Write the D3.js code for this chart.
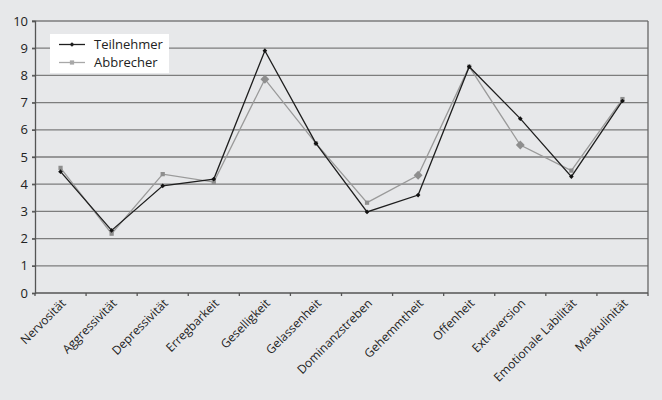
<!DOCTYPE html>
<html>
<head>
<meta charset="utf-8">
<script src="https://cdn.jsdelivr.net/npm/d3@7"></script>
<style>
  body { margin: 0; background: #e7e8ea; }
  svg { display: block; font-family: "Open Sans", "Noto Sans", sans-serif; }
</style>
</head>
<body>
<svg id="chart" width="662" height="400"></svg>
<script>
'use strict';

var categories = ['Nervosität', 'Aggressivität', 'Depressivität', 'Erregbarkeit', 'Geselligkeit',
    'Gelassenheit', 'Dominanzstreben', 'Gehemmtheit', 'Offenheit', 'Extraversion',
    'Emotionale Labilität', 'Maskulinität'];
var teilnehmer = [4.46, 2.30, 3.94, 4.19, 8.91, 5.50, 2.98, 3.60, 8.32, 6.41, 4.28, 7.06];
var abbrecher = [4.60, 2.18, 4.37, 4.08, 7.86, 5.50, 3.32, 4.33, 8.32, 5.44, 4.50, 7.13];
var yTicks = [0, 1, 2, 3, 4, 5, 6, 7, 8, 9, 10];
// Abbrecher points that the original drew with a bigger diamond
var abbrecherDiamonds = ['Geselligkeit', 'Gehemmtheit', 'Extraversion'];

var svg = d3.select('#chart');
var plotLeft = 35, plotRight = 648, plotTop = 21, plotBottom = 293;

var x = d3.scaleBand().domain(categories).range([plotLeft, plotRight]);
var y = d3.scaleLinear().domain([0, 10]).range([plotBottom, plotTop]);

// background
svg.append('rect').attr('width', 662).attr('height', 400).attr('fill', '#e7e8ea');

// gridlines
svg.append('g')
    .selectAll('line')
    .data(yTicks.filter(function(d) { return d > 0; }))
    .enter().append('line')
        .attr('x1', plotLeft - 3).attr('x2', plotRight)
        .attr('y1', function(d) { return y(d); })
        .attr('y2', function(d) { return y(d); })
        .attr('stroke', '#7d7d7d')
        .attr('stroke-width', 1.3);

// right border
svg.append('line')
    .attr('x1', plotRight).attr('x2', plotRight).attr('y1', plotTop).attr('y2', plotBottom)
    .attr('stroke', '#666').attr('stroke-width', 1.3);

// y axis
var yAxis = svg.append('g')
    .attr('transform', 'translate(' + plotLeft + ',0)')
    .call(d3.axisLeft(y).tickValues(yTicks).tickSize(3).tickPadding(4).tickFormat(d3.format('d')));
yAxis.select('.domain').attr('stroke', '#555').attr('stroke-width', 1.3);
yAxis.selectAll('.tick line').attr('stroke', '#555').attr('stroke-width', 1.3);
yAxis.selectAll('.tick text').attr('font-size', 13).attr('fill', '#222')
    .attr('font-family', '"Open Sans", "Noto Sans", sans-serif');

// x axis
var xTickPos = categories.map(function(c) { return x(c); }).concat([plotRight]);
var xAxis = svg.append('g');
xAxis.append('line')
    .attr('x1', plotLeft).attr('x2', plotRight).attr('y1', plotBottom).attr('y2', plotBottom)
    .attr('stroke', '#555').attr('stroke-width', 1.3);
xAxis.selectAll('line.tick')
    .data(xTickPos)
    .enter().append('line')
        .attr('class', 'tick')
        .attr('x1', function(d) { return d; }).attr('x2', function(d) { return d; })
        .attr('y1', plotBottom).attr('y2', plotBottom + 3)
        .attr('stroke', '#555').attr('stroke-width', 1.3);
xAxis.selectAll('text')
    .data(categories)
    .enter().append('text')
        .attr('transform', function(d) {
            var cx = x(d) + x.bandwidth() / 2 + 3;
            return 'translate(' + cx + ',' + (plotBottom + 8) + ') rotate(-45)';
        })
        .attr('text-anchor', 'end')
        .attr('dy', '0.35em')
        .attr('font-size', 12)
        .attr('fill', '#222')
        .text(function(d) { return d; });

function px(d, i) { return x(categories[i]) + x.bandwidth() / 2; }

var line = d3.line()
    .x(function(d, i) { return px(d, i); })
    .y(function(d) { return y(d); });

// Abbrecher series
svg.append('path')
    .datum(abbrecher)
    .attr('d', line)
    .attr('fill', 'none')
    .attr('stroke', '#9a9a9a')
    .attr('stroke-width', 1.3);

svg.append('g')
    .selectAll('path')
    .data(abbrecher)
    .enter().append('path')
        .attr('transform', function(d, i) { return 'translate(' + px(d, i) + ',' + y(d) + ')'; })
        .attr('d', function(d, i) {
            if (abbrecherDiamonds.indexOf(categories[i]) >= 0) {
                return d3.symbol().type(d3.symbolDiamond2).size(50)();
            }
            return d3.symbol().type(d3.symbolSquare).size(18)();
        })
        .attr('fill', '#8e8e8e');

// Teilnehmer series
svg.append('path')
    .datum(teilnehmer)
    .attr('d', line)
    .attr('fill', 'none')
    .attr('stroke', '#1e1e1e')
    .attr('stroke-width', 1.3);

svg.append('g')
    .selectAll('path')
    .data(teilnehmer)
    .enter().append('path')
        .attr('transform', function(d, i) { return 'translate(' + px(d, i) + ',' + y(d) + ')'; })
        .attr('d', d3.symbol().type(d3.symbolDiamond2).size(14))
        .attr('fill', '#111');

// legend
var legend = svg.append('g').attr('transform', 'translate(50,34)');
legend.append('rect').attr('width', 119).attr('height', 39).attr('fill', '#fff');
var legendItems = [
    { name: 'Teilnehmer', color: '#1e1e1e', symbol: d3.symbolDiamond2, size: 14 },
    { name: 'Abbrecher', color: '#a8a8a8', symbol: d3.symbolSquare, size: 18 }
];
legendItems.forEach(function(item, i) {
    var ly = 10.5 + i * 18;
    legend.append('line')
        .attr('x1', 9).attr('x2', 35).attr('y1', ly).attr('y2', ly)
        .attr('stroke', item.color).attr('stroke-width', 1.3);
    legend.append('path')
        .attr('transform', 'translate(22,' + ly + ')')
        .attr('d', d3.symbol().type(item.symbol).size(item.size))
        .attr('fill', item.color);
    legend.append('text')
        .attr('x', 44).attr('y', ly).attr('dy', '0.35em')
        .attr('font-size', 13).attr('fill', '#222')
        .text(item.name);
});
</script>
</body>
</html>
